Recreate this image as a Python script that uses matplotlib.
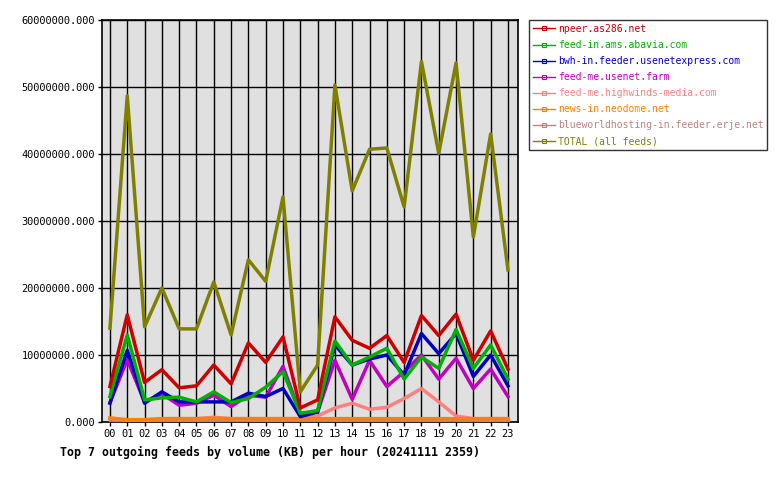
import matplotlib
matplotlib.use("Agg")
import matplotlib.pyplot as plt
from matplotlib.lines import Line2D

hours = ["%02d" % h for h in range(24)]

npeer = [5.3, 16.0, 5.9, 7.8, 5.1, 5.4, 8.5, 5.7, 11.8, 8.9, 12.7, 2.1,
         3.3, 15.7, 12.2, 11.0, 12.9, 8.9, 15.9, 12.9, 16.1, 9.2, 13.6, 7.9]
abavia = [3.8, 13.0, 3.3, 3.6, 3.7, 3.0, 4.5, 2.9, 3.5, 5.2, 7.5, 1.3,
          1.7, 12.1, 8.5, 9.7, 11.0, 6.4, 9.7, 8.0, 13.8, 8.0, 11.5, 6.4]
bwh = [2.8, 10.7, 2.8, 4.5, 3.0, 3.0, 3.0, 3.0, 4.3, 3.8, 5.0, 0.8,
       1.5, 11.5, 8.5, 9.4, 10.0, 7.0, 13.2, 10.2, 13.2, 6.8, 10.0, 5.4]
farm = [2.9, 9.3, 3.0, 4.2, 2.5, 2.8, 4.0, 2.3, 4.0, 3.7, 8.3, 1.2,
        1.5, 9.2, 3.4, 9.2, 5.3, 7.5, 10.0, 6.4, 9.5, 5.0, 7.9, 3.8]
highwinds = [0.55, 0.3, 0.3, 0.5, 0.5, 0.5, 0.7, 0.5, 0.5, 0.5, 0.5, 0.5,
             0.9, 2.1, 2.8, 1.9, 2.2, 3.5, 5.0, 3.0, 0.9, 0.5, 0.5, 0.5]
neodome = [0.6, 0.35, 0.35, 0.5, 0.5, 0.5, 0.55, 0.5, 0.5, 0.5, 0.5, 0.5,
           0.5, 0.5, 0.5, 0.5, 0.5, 0.5, 0.5, 0.5, 0.5, 0.5, 0.5, 0.5]
blueworld = [0.3] * 24
total = [14.0, 48.7, 14.2, 20.0, 13.9, 13.9, 20.9, 13.0, 24.2, 21.0, 33.6, 4.5,
         8.5, 50.3, 34.5, 40.7, 40.9, 32.1, 53.8, 40.1, 53.6, 27.6, 43.0, 22.7]

names = ["npeer.as286.net", "feed-in.ams.abavia.com", "bwh-in.feeder.usenetexpress.com",
         "feed-me.usenet.farm", "feed-me.highwinds-media.com", "news-in.neodome.net",
         "blueworldhosting-in.feeder.erje.net", "TOTAL (all feeds)"]
colors = ["#cc0000", "#00b000", "#0000c0", "#c000c0", "#ff8080", "#ff8000",
          "#c08080", "#808000"]
series = [npeer, abavia, bwh, farm, highwinds, neodome, blueworld, total]

plt.rcParams['font.family'] = 'DejaVu Sans Mono'

fig = plt.figure(figsize=(7.8, 4.8), dpi=100)
ax = fig.add_axes([102/780, 58/480, 416/780, 402/480])
ax.set_facecolor("#e0e0e0")

x = list(range(24))
# draw so that blueworld sits under orange and TOTAL on top
order = [6, 4, 5, 3, 2, 1, 0, 7]
for i in order:
    ax.plot(x, [v * 1e6 for v in series[i]], color=colors[i], lw=2.5, zorder=3)

ax.set_xlim(-0.46, 23.58)
ax.set_ylim(0, 60e6)
ax.set_xticks(x)
ax.set_xticklabels(hours, fontsize=7.5)
yt = [i * 10e6 for i in range(7)]
ax.set_yticks(yt)
ax.set_yticklabels(["%d.000" % v for v in yt], fontsize=7.4)
ax.grid(True, color="black", lw=1)
ax.set_axisbelow(True)
ax.tick_params(length=3, width=1, pad=2)
for s in ax.spines.values():
    s.set_linewidth(1.2)

handles = [Line2D([0], [0], color=c, lw=1, marker="s", markersize=2.5,
                  markerfacecolor="none", markeredgewidth=0.8) for c in colors]
leg = fig.legend(handles, names, loc="upper left", bbox_to_anchor=(529/780, 460/480),
                 fontsize=7.0, frameon=True, fancybox=False, edgecolor="black",
                 handlelength=2.3, handletextpad=0.25, labelspacing=0.62,
                 borderpad=0.4, borderaxespad=0)
leg.get_frame().set_linewidth(1)
for t, c in zip(leg.get_texts(), colors):
    t.set_color(c)

fig.text(60/780, 28/480, "Top 7 outgoing feeds by volume (KB) per hour (20241111 2359)",
         fontsize=8.35, fontweight="bold", va="center", ha="left")

fig.savefig("out.png", dpi=100)
